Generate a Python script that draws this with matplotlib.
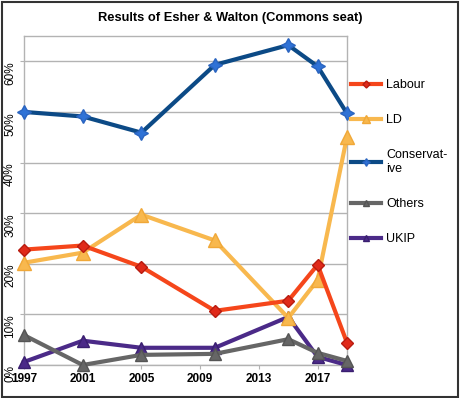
import matplotlib
matplotlib.use("Agg")
import matplotlib.pyplot as plt
from matplotlib.patches import Rectangle

plt.rcParams['font.family'] = ['Liberation Sans', 'DejaVu Sans']

years = [1997, 2001, 2005, 2010, 2015, 2017, 2019]
labour = [22.8, 23.6, 19.4, 10.7, 12.7, 19.8, 4.4]
ld = [20.2, 22.2, 29.7, 24.6, 9.3, 16.8, 45.1]
conservative = [50.0, 49.1, 45.9, 59.3, 63.2, 59.0, 49.7]
others = [5.9, 0.0, 2.0, 2.2, 5.1, 2.4, 0.8]
ukip = [0.6, 4.8, 3.4, 3.4, 9.5, 1.6, 0.0]

xticks = [1997, 2001, 2005, 2009, 2013, 2017]
yticks = [0, 10, 20, 30, 40, 50, 60]
ytick_labels = ['0%', '10%', '20%', '30%', '40%', '50%', '60%']
title = 'Results of Esher & Walton (Commons seat)'

W, H = 461, 398
fig = plt.figure(figsize=(W / 100, H / 100), dpi=100)
ax = fig.add_axes([24 / W, 1 - 365 / H, (347 - 24) / W, (365 - 36) / H])

lw = 3.0
ax.plot(years, ukip, color='#4b2a88', lw=lw, marker='^', ms=9,
        mfc='#4b2a88', mec='#3a1f70', label='UKIP', zorder=3, clip_on=False)
ax.plot(years, others, color='#666666', lw=lw, marker='^', ms=9,
        mfc='#666666', mec='#555555', label='Others', zorder=4, clip_on=False)
ax.plot(years, ld, color='#f8b84e', lw=lw, marker='^', ms=10,
        mfc='#f8b84e', mec='#f0a838', label='LD', zorder=5, clip_on=False)
ax.plot(years, labour, color='#f5461b', lw=lw, marker='D', ms=6.5,
        mfc='#e02a1a', mec='#b81c10', label='Labour', zorder=6, clip_on=False)
ax.plot(years, conservative, color='#0c4a86', lw=lw, marker=(4, 1, 0), ms=10,
        mfc='#2f72d6', mec='#2a64c0', label='Conservat-\nive', zorder=7, clip_on=False)

ax.set_xlim(1997, 2019)
ax.set_ylim(0, 65)
ax.set_xticks(xticks)
ax.set_xticklabels([str(x) for x in xticks], fontweight='bold', fontsize=8.5)
ax.set_yticks(yticks)
ax.set_yticklabels(ytick_labels, fontsize=8.5)
for lab in ax.get_yticklabels():
    lab.set_rotation(90)
    lab.set_rotation_mode('anchor')
    lab.set_ha('right')
    lab.set_va('center')

ax.tick_params(axis='x', direction='out', length=3, color='#b3b3b3', pad=3)
ax.tick_params(axis='y', direction='out', length=3, color='#b3b3b3', pad=7)
ax.grid(axis='y', color='#b3b3b3', lw=1.0)
ax.set_axisbelow(True)
for s in ax.spines.values():
    s.set_color('#b3b3b3')
    s.set_linewidth(1.0)

handles, labels = ax.get_legend_handles_labels()
order = [3, 2, 4, 1, 0]
fig.legend([handles[i] for i in order], [labels[i] for i in order],
           loc='upper left', bbox_to_anchor=(351 / W, 1 - 79 / H),
           frameon=False, fontsize=9, handlelength=2.4, handletextpad=0.4,
           labelspacing=1.85, borderpad=0, borderaxespad=0, markerscale=0.55)

fig.text(230 / W, 1 - 18 / H, title, ha='center', va='center',
         fontsize=9.3, fontweight='bold')

fig.patches.append(Rectangle((1.5 / W, 1.5 / H), (W - 5) / W, (H - 3.5) / H,
                             transform=fig.transFigure, fill=False,
                             edgecolor='#333333', lw=1.5))

fig.savefig('out.png', dpi=100)
